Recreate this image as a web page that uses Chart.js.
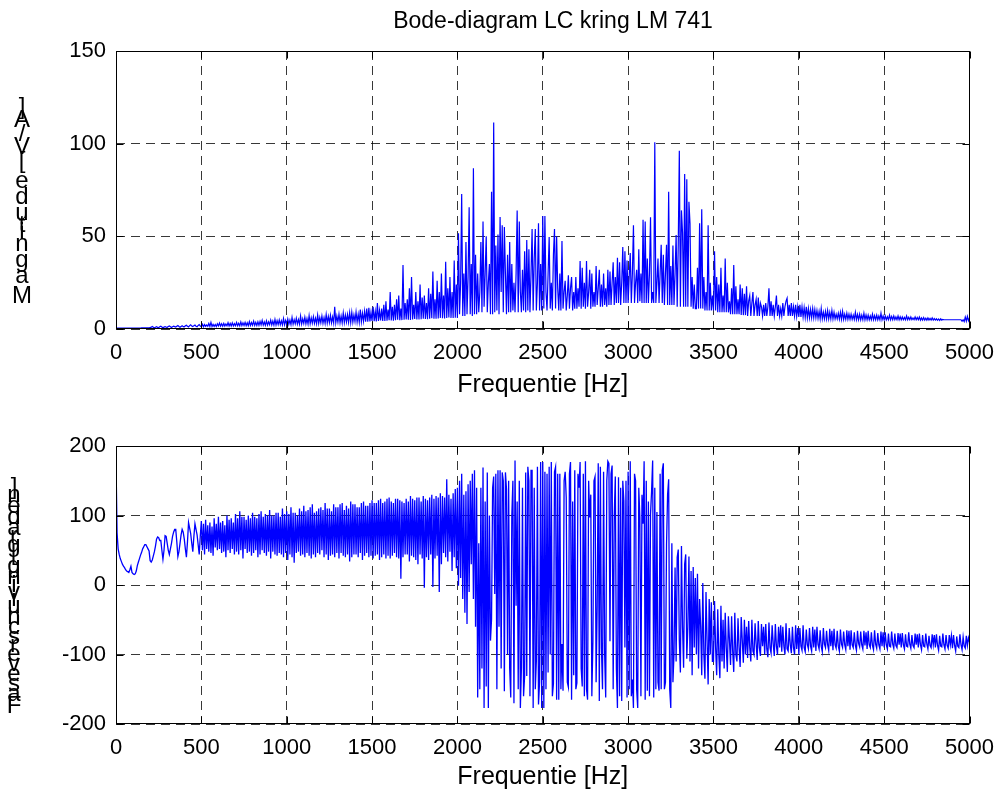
<!DOCTYPE html>
<html><head><meta charset="utf-8">
<script src="https://cdn.jsdelivr.net/npm/chart.js@4/dist/chart.umd.min.js"></script>
<style>
html,body{margin:0;padding:0;background:#fff;}
#wrap{position:relative;width:1005px;height:795px;overflow:hidden;background:#fff;}
canvas{position:absolute;left:0;}
</style></head><body>
<div id="wrap">
<canvas id="c1" width="1005" height="398" style="top:0px"></canvas>
<canvas id="c2" width="1005" height="397" style="top:398px"></canvas>
</div>
<script>
// ---- data ----
const FREQ_STEP = 6.25; // Hz between samples, 0 .. 5000 Hz
const xTicks = [0,500,1000,1500,2000,2500,3000,3500,4000,4500,5000];
const magTicks = [0,50,100,150];
const phaseTicks = [-200,-100,0,100,200];

// magnitude [V/A], 16 samples per 100 Hz
const magnitude = [
0.5,0.5,0.5,0.5,0.5,0.5,0.5,0.5,0.5,0.5,0.5,0.5,0.5,0.5,0.5,0.5,
0.5,0.5,0.5,0.5,0.5,0.5,0.5,0.5,0.6,0.6,0.6,0.6,0.6,0.6,0.6,0.6,
0.7,1.0,1.4,1.0,0.6,0.9,1.2,0.9,0.8,1.2,1.5,1.1,0.7,1.0,1.3,1.0,
0.9,1.3,1.6,1.2,0.8,1.2,1.5,1.3,1.1,1.5,1.9,1.4,1.0,1.4,1.8,1.3,
1.2,1.7,2.0,1.5,1.1,1.8,2.3,1.6,1.3,1.8,2.1,1.5,1.2,1.9,2.4,1.6,
1.3,2.6,1.2,2.4,1.4,2.2,1.5,3.0,1.4,3.6,1.3,2.5,1.4,2.4,1.3,2.8,
1.6,3.2,1.5,2.8,1.5,3.0,1.6,2.7,1.7,3.4,1.6,3.0,1.6,3.3,1.7,2.9,
1.8,3.5,1.7,3.1,1.7,3.8,1.8,3.3,1.9,3.6,1.8,3.4,1.8,4.0,1.9,3.5,
2.0,4.2,1.9,3.6,1.9,3.9,2.0,4.1,2.2,4.6,2.1,3.8,2.0,4.4,2.1,3.9,
2.3,4.8,2.2,4.3,2.1,5.2,2.2,4.5,2.4,4.9,2.3,4.4,2.2,5.6,2.3,4.7,
2.6,5.4,2.5,4.8,2.4,6.2,2.6,5.0,2.8,5.8,2.7,5.1,2.6,7.0,2.7,5.5,
3.0,6.4,2.8,5.6,2.7,7.2,2.9,6.0,3.1,6.6,3.0,5.8,2.9,7.5,3.0,6.2,
3.3,7.0,3.1,6.2,3.0,7.8,3.2,6.8,3.4,7.4,3.3,6.5,3.2,12.0,3.3,7.0,
3.6,8.0,3.4,7.0,3.3,8.6,3.5,7.5,3.8,7.8,3.6,8.8,3.5,9.0,3.7,7.6,
4.0,9.2,3.8,8.0,3.7,10.5,3.9,8.5,4.2,9.6,4.0,11.0,3.9,11.5,4.1,9.0,
4.4,12.0,4.2,9.5,4.1,14.0,4.3,10.0,4.6,11.0,4.4,13.0,4.3,15.0,4.5,10.5,
4.8,20.0,4.6,12.0,4.5,13.0,4.7,16.0,5.0,18.0,4.8,11.0,4.8,34.5,5.0,14.0,
5.2,16.0,5.0,22.0,4.9,28.0,5.1,13.0,5.4,20.0,5.2,15.0,5.1,24.0,5.3,17.0,
5.6,18.0,5.4,14.0,5.3,22.0,5.5,19.0,5.8,31.0,5.6,16.0,5.5,26.0,5.7,20.0,
6.0,30.0,5.8,18.0,5.7,36.3,5.9,22.0,6.2,28.0,6.0,20.0,5.9,37.0,6.1,24.0,
6.0,51.7,8.0,25.0,72.8,7.0,30.0,7.0,47.0,8.0,28.0,65.7,8.0,35.0,7.0,86.7,
8.0,40.0,8.0,30.0,9.0,20.0,47.0,9.0,58.0,12.0,30.0,50.0,9.0,25.0,35.0,8.0,
74.0,8.0,111.4,9.0,45.0,10.0,51.0,8.0,60.4,20.0,56.0,9.0,55.0,30.0,8.0,40.0,
9.0,47.0,9.0,35.0,10.0,25.0,9.0,30.0,63.9,9.0,58.0,20.0,9.0,32.0,10.0,42.0,
9.0,48.0,10.0,43.0,9.0,30.0,54.0,10.0,38.0,54.0,10.0,25.0,57.0,10.0,35.0,10.0,
61.0,11.0,61.0,20.0,10.0,30.0,49.6,11.0,25.0,10.0,40.0,54.0,11.0,50.0,22.0,10.0,
30.0,10.0,47.5,11.0,20.0,26.0,10.0,18.0,29.0,11.0,22.0,28.0,10.0,20.0,11.0,28.0,
11.0,22.0,12.0,36.7,11.0,33.0,12.0,25.0,11.0,36.7,12.0,20.0,32.0,11.0,30.0,12.0,
20.0,12.0,34.0,13.0,22.0,32.0,12.0,24.0,12.0,30.0,13.0,22.0,12.0,32.0,13.0,31.0,
13.0,25.0,36.0,13.0,28.0,14.0,38.5,14.0,36.0,13.0,25.0,44.3,14.0,42.0,14.0,37.0,
14.0,28.0,41.0,14.0,30.0,56.0,14.0,25.0,32.0,14.0,43.0,15.0,30.0,14.0,59.0,14.0,
58.0,14.0,38.0,14.0,30.0,60.3,14.0,20.0,14.0,100.7,14.0,25.0,38.0,14.0,30.0,45.5,
14.0,40.0,13.0,30.0,45.5,13.0,74.0,13.0,34.0,13.0,45.0,13.0,30.0,50.7,12.0,46.0,
96.2,12.0,64.0,52.0,12.0,83.6,12.0,80.8,12.0,68.7,57.0,12.0,28.0,11.0,24.0,11.0,
11.0,33.0,11.0,57.0,11.0,64.6,11.0,28.0,10.0,20.0,10.0,56.0,10.0,25.0,10.0,18.0,
10.0,42.0,10.0,28.0,9.0,24.0,9.0,33.0,9.0,18.0,9.0,38.0,9.0,25.0,9.0,15.0,
8.0,22.0,8.0,34.5,8.0,23.0,8.0,16.0,8.0,24.0,7.5,22.0,7.5,19.0,7.5,23.0,
7.0,15.0,18.0,7.0,14.0,20.0,7.0,13.0,16.0,7.0,17.0,7.0,14.0,12.0,7.0,13.0,
7.0,14.0,7.0,12.0,22.0,7.0,15.0,7.0,13.0,7.0,12.0,18.0,7.0,13.0,7.0,11.0,
7.0,14.0,7.0,12.0,15.0,16.6,7.0,13.0,7.0,14.0,7.0,12.0,7.0,13.0,6.8,12.0,
6.5,13.0,6.5,12.0,6.5,11.5,6.2,12.0,6.0,11.0,6.0,10.5,6.0,11.0,6.0,10.5,
6.0,10.0,5.8,9.5,5.5,11.0,5.5,9.0,5.5,9.5,5.5,10.0,5.5,9.0,5.5,10.0,
5.5,9.0,5.5,8.0,5.5,8.5,5.3,9.0,5.2,9.5,5.2,8.0,5.2,8.5,5.2,8.0,
5.2,8.0,5.2,7.5,5.2,9.0,5.1,7.8,5.0,8.0,5.0,7.5,5.0,8.5,5.0,7.6,
5.0,7.5,5.0,7.0,5.0,8.0,5.0,7.2,5.0,7.5,5.0,7.0,5.0,8.5,5.0,7.0,
5.0,7.0,5.0,6.6,5.0,7.5,5.0,6.8,5.0,7.0,5.0,6.5,5.0,7.0,5.0,6.6,
5.0,6.5,5.0,6.2,5.0,7.0,5.0,6.3,5.0,6.5,5.0,6.0,5.0,6.5,5.0,6.2,
5.0,6.5,4.8,6.0,4.8,6.2,4.8,5.8,4.8,6.0,4.8,5.7,4.8,6.0,4.8,5.6,
4.8,5.5,4.7,5.4,4.6,5.5,4.8,5.2,5.0,5.0,5.0,5.0,5.0,5.0,5.0,5.0,
5.0,5.0,5.0,5.0,5.0,5.0,5.0,5.0,5.0,4.2,5.0,4.0,6.5,4.2,6.8,4.5,
6.0
];

// phase shift [degrees], 16 samples per 100 Hz
const phase = [
178,75,52,44,38,34,30,27,25,22,20,19,18,22,27,18,
16,15,16,20,28,33,38,43,47,52,55,58,58,55,52,49,
35,33,36,42,48,56,66,69,68,64,64,50,37,50,71,70,
60,50,44,52,60,70,76,80,80,62,41,48,60,72,80,76,
66,52,40,62,90,82,74,60,48,70,88,80,72,58,44,70,
92,50,88,44,94,52,86,48,90,46,84,42,96,54,88,50,
98,52,90,46,92,48,86,40,100,50,94,46,96,52,90,44,
102,48,96,44,106,50,98,38,98,52,94,46,100,48,96,42,
104,46,98,50,96,40,102,44,106,50,98,46,102,42,100,48,
108,38,100,48,100,44,104,42,104,46,98,44,110,40,102,46,
106,36,102,44,112,40,104,32,104,46,100,48,110,42,106,44,
114,40,106,46,108,42,112,38,116,44,104,40,106,46,110,44,
112,50,108,40,118,44,110,36,110,42,106,44,116,40,112,46,
112,38,116,46,118,42,108,40,114,44,110,34,120,40,116,44,
116,44,112,40,112,46,118,36,120,42,114,46,114,40,118,42,
122,38,118,42,118,44,122,36,124,40,118,44,120,38,124,42,
126,38,120,42,118,46,124,40,124,38,122,9,120,40,118,44,
124,44,120,34,128,42,124,40,122,36,126,30,126,44,120,38,
128,-4,124,40,122,36,126,44,130,-3,124,38,128,42,126,-10,
132,30,128,46,126,40,152,34,130,48,124,20,132,40,138,24,
140,-1,150,10,160,-20,130,-40,135,-56,145,-10,150,30,160,-20,
165,-60,140,-162,60,-150,140,-120,169,-177,120,-146,162,-177,100,-80,
-49,140,156,-13,160,-150,165,-60,165,-120,162,150,-153,162,138,-100,
150,-120,-162,100,150,-170,179,-30,120,-150,150,-177,-119,140,-160,-131,
162,-131,170,150,-160,165,165,-177,140,-150,-109,170,-172,-140,177,-177,
177,-177,163,-150,160,-126,170,-100,177,-160,-142,163,170,-165,160,-165,
160,-150,-85,-152,150,163,126,-140,-147,160,177,-165,120,-130,165,-150,
-141,160,140,177,-120,-146,160,-160,178,-150,-165,150,97,130,-160,-81,
150,156,-140,-30,175,-167,170,-91,-150,163,-100,-162,150,178,175,-81,
160,172,-150,100,156,-120,-177,155,-160,140,-167,150,121,-90,150,-162,
163,-150,178,-160,-136,-177,160,150,-150,-177,140,97,-160,130,88,178,
-165,150,-152,120,-160,102,135,179,-162,140,-150,105,-140,-152,160,-150,
165,175,-150,-140,58,130,152,-150,-177,60,-140,-100,25,-110,40,51,
-80,-126,56,-60,-119,30,44,-106,-60,41,-110,20,-130,26,-90,10,
-100,16,-120,-20,-60,-130,3,-100,-135,-10,-80,-143,-20,-100,-25,-110,
-110,-23,-90,-130,-35,-100,-134,-30,-110,-50,-120,-40,-90,-125,-45,-80,
-115,-45,-95,-125,-40,-100,-110,-48,-90,-118,-46,-80,-112,-50,-100,-60,
-105,-52,-90,-110,-50,-95,-100,-55,-85,-108,-52,-90,-102,-56,-88,-60,
-100,-56,-92,-104,-54,-90,-98,-58,-85,-102,-56,-88,-100,-60,-90,-58,
-96,-60,-88,-100,-55,-92,-95,-62,-86,-98,-60,-90,-100,-58,-92,-62,
-100,-62,-88,-94,-58,-90,-96,-64,-86,-92,-62,-88,-95,-60,-90,-64,
-95,-60,-86,-92,-65,-88,-96,-62,-85,-90,-66,-86,-94,-63,-88,-66,
-94,-63,-86,-91,-66,-88,-95,-64,-85,-90,-67,-86,-93,-65,-88,-66,
-93,-65,-86,-90,-68,-87,-94,-66,-84,-89,-67,-86,-92,-66,-87,-68,
-92,-66,-86,-90,-68,-87,-93,-65,-85,-91,-69,-86,-92,-67,-88,-68,
-90,-68,-86,-92,-70,-88,-89,-67,-85,-91,-70,-87,-90,-69,-86,-70,
-90,-69,-86,-92,-71,-88,-89,-68,-85,-91,-72,-87,-90,-70,-86,-71,
-90,-70,-86,-93,-72,-88,-89,-70,-85,-92,-73,-87,-90,-71,-86,-72,
-90,-71,-87,-94,-73,-88,-89,-70,-86,-92,-72,-87,-91,-72,-86,-73,
-91,-72,-87,-95,-74,-88,-90,-71,-86,-93,-75,-88,-91,-73,-87,-76,
-82
];

const TITLE = 'Bode-diagram LC kring LM 741';
const XLABEL = 'Frequentie [Hz]';
const YLABEL_MAG = 'Magnitude [V/A]';
const YLABEL_PHASE = 'Faseverschuiving [graden]';

// ---- drawing ----
const FONT = "'Liberation Sans', Arial, Helvetica, sans-serif";
const toPoints = arr => arr.map((v, i) => ({x: i * FREQ_STEP, y: v}));

const framePlugin = {
  id: 'matlabFrame',
  afterDatasetsDraw(chart, args, opts) {
    const {ctx, chartArea: a, scales} = chart;
    ctx.save();
    ctx.setLineDash([]);
    ctx.strokeStyle = '#000';
    ctx.lineWidth = 1;
    const L = Math.round(a.left) + 0.5, R = Math.round(a.right) - 0.5;
    const T = Math.round(a.top) + 0.5, B = Math.round(a.bottom) - 0.5;
    ctx.strokeRect(L, T, R - L, B - T);
    const tl = 7;
    ctx.beginPath();
    xTicks.forEach(v => {
      const x = Math.round(scales.x.getPixelForValue(v)) + 0.5;
      ctx.moveTo(x, B); ctx.lineTo(x, B - tl);
      ctx.moveTo(x, T); ctx.lineTo(x, T + tl);
    });
    opts.yTicks.forEach(v => {
      const y = Math.round(scales.y.getPixelForValue(v)) + 0.5;
      ctx.moveTo(L, y); ctx.lineTo(L + tl, y);
      ctx.moveTo(R, y); ctx.lineTo(R - tl, y);
    });
    ctx.stroke();
    ctx.restore();
  },
  afterDraw(chart, args, opts) {
    const ctx = chart.ctx;
    ctx.save();
    ctx.fillStyle = '#000';
    if (opts.title) {
      ctx.font = '23px ' + FONT;
      ctx.textAlign = 'center';
      ctx.textBaseline = 'middle';
      ctx.fillText(opts.title, 553, 22);
    }
    // y label: upright glyphs stacked bottom-to-top, as in the reference
    const s = opts.label;
    ctx.font = s.size + 'px ' + FONT;
    ctx.textAlign = 'center';
    ctx.textBaseline = 'middle';
    const chars = Array.from(s.text);
    const widths = chars.map(c => ctx.measureText(c).width);
    const total = widths.reduce((p, q) => p + q, 0);
    const k = (s.yBottom - s.yTop) / total;
    let y = s.yBottom;
    chars.forEach((c, i) => {
      const adv = widths[i] * k;
      ctx.fillText(c, s.x, y - adv / 2);
      y -= adv;
    });
    ctx.restore();
  }
};

function makeChart(id, values, yMin, yMax, yTicks, cfg) {
  const tickFont = {family: FONT, size: 22};
  return new Chart(document.getElementById(id), {
    type: 'line',
    data: {datasets: [{
      data: toPoints(values),
      borderColor: '#0000ff', borderWidth: cfg.lw,
      pointRadius: 0, tension: 0, fill: false
    }]},
    options: {
      responsive: false, animation: false, events: [],
      layout: {padding: {left: 0, right: 32, top: cfg.padTop, bottom: 0}},
      plugins: {
        legend: {display: false},
        tooltip: {enabled: false},
        title: {display: false},
        matlabFrame: {yTicks: yTicks, label: cfg.label, title: cfg.title}
      },
      scales: {
        x: {
          type: 'linear', min: 0, max: 5000,
          afterFit(s) { s.height = cfg.xH; },
          afterBuildTicks(s) { s.ticks = xTicks.map(v => ({value: v})); },
          ticks: {color: '#000', font: tickFont, padding: 11, maxRotation: 0, autoSkip: false,
                  callback: v => String(v)},
          grid: {color: 'rgba(0,0,0,0.78)', lineWidth: 1, drawTicks: false},
          border: {display: false, dash: [9, 6]},
          title: {display: true, text: XLABEL, color: '#000',
                  font: {family: FONT, size: 25, lineHeight: 1.0},
                  padding: {top: 0, bottom: cfg.xTitlePad}}
        },
        y: {
          type: 'linear', min: yMin, max: yMax,
          afterFit(s) { s.width = 116; },
          afterBuildTicks(s) { s.ticks = yTicks.map(v => ({value: v})); },
          ticks: {color: '#000', font: tickFont, padding: 10, callback: v => String(v)},
          grid: {color: 'rgba(0,0,0,0.78)', lineWidth: 1, drawTicks: false},
          border: {display: false, dash: [9, 6]}
        }
      }
    },
    plugins: [framePlugin]
  });
}

makeChart('c1', magnitude, 0, 150, magTicks, {
  title: TITLE, padTop: 51, xH: 69, xTitlePad: 0.5, lw: 1.2,
  label: {text: YLABEL_MAG, x: 22, yTop: 103, yBottom: 308, size: 24}
});
makeChart('c2', phase, -200, 200, phaseTicks, {
  title: null, padTop: 48, xH: 71, xTitlePad: 5.5, lw: 1.3,
  label: {text: YLABEL_PHASE, x: 14, yTop: 87, yBottom: 314, size: 24}
});
</script>
</body></html>
